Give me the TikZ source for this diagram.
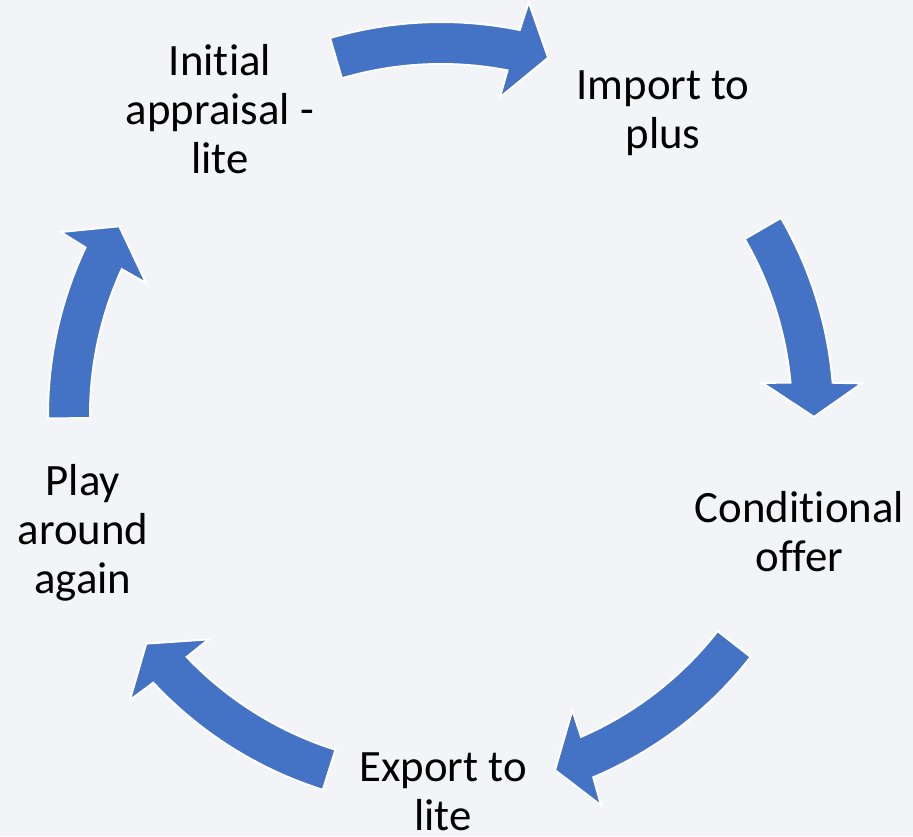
\documentclass[tikz,border=0pt]{standalone}
\usepackage{fontspec}
\setmainfont{Carlito}[Ligatures=NoCommon]
\definecolor{bgcol}{HTML}{F3F4F7}
\definecolor{arrowblue}{HTML}{4472C4}
\tikzset{
  label text/.style={font=\fontsize{44.8}{49}\selectfont, align=center, inner sep=0pt, text=black},
  cycle arrow/.style={fill=arrowblue, draw=white, line width=2pt, line join=miter},
}
\begin{document}
\begin{tikzpicture}[x=1pt,y=1pt]
  % page background
  \fill[bgcol] (-441,-421) rectangle (472,415);
  \useasboundingbox (-441,-421) rectangle (472,415);

  % stage labels around the cycle
  \node[label text] (appraisal) at (-221,300.8) {\strut Initial\\appraisal -\\lite\strut};
  \node[label text] (import)    at (222,300.8)  {\strut Import to\\plus\strut};
  \node[label text] (offer)     at (358.5,-122.4) {\strut Conditional\\offer\strut};
  \node[label text] (export)    at (2,-381)     {\strut Export to\\lite\strut};
  \node[label text] (play)      at (-358,-119.4) {\strut Play\\around\\again\strut};

  % curved block arrows: tail angle / outer barb / inner barb / tip angle
  \foreach \tailang/\outang/\inang/\tipang in {
      106.4/78.0/79.5/73.3,
      30.1/4.3/5.7/-0.3,
      -38.0/-67.7/-66.0/-72.2,
      252.5/222.5/224.0/217.8,
      180.5/154.3/155.9/149.6}{
    \pgfmathsetmacro\outsh{\outang+0.293*(\inang-\outang)}
    \pgfmathsetmacro\insh{\outang+0.717*(\inang-\outang)}
    \draw[cycle arrow] (\tailang:393)
      arc[start angle=\tailang, end angle=\outsh, radius=393pt]
      -- (\outang:422) -- (\tipang:373) -- (\inang:323) -- (\insh:351)
      arc[start angle=\insh, end angle=\tailang, radius=351pt] -- cycle;
  }
\end{tikzpicture}
\end{document}
